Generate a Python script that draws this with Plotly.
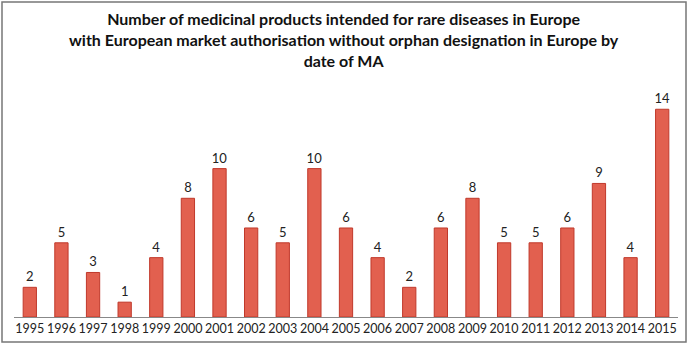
import plotly.graph_objects as go

years = ["1995", "1996", "1997", "1998", "1999", "2000", "2001", "2002", "2003", "2004", "2005",
         "2006", "2007", "2008", "2009", "2010", "2011", "2012", "2013", "2014", "2015"]
counts = [2, 5, 3, 1, 4, 8, 10, 6, 5, 10, 6, 4, 2, 6, 8, 5, 5, 6, 9, 4, 14]

title_text = ("Number of medicinal products intended for rare diseases in Europe<br>"
              "with European market authorisation without orphan designation in Europe by<br>"
              "date of MA")

W, H = 688, 348
ml, mr, mt, mb = 14, 10, 87, 31
pw, ph = W - ml - mr, H - mt - mb

fig = go.Figure(go.Bar(
    x=years, y=counts,
    marker=dict(color="#e2604f", line=dict(color="#c0392b", width=1)),
    width=0.42,
    text=[str(c) for c in counts], textposition="outside",
    textfont=dict(family="Lato", size=13, color="#222"),
    constraintext="none",
    cliponaxis=False,
))

def px_x(p):
    return (p - ml) / pw

def px_y(p):
    return (H - mb - p) / ph

fig.update_layout(
    width=W, height=H,
    margin=dict(l=ml, r=mr, t=mt, b=mb),
    paper_bgcolor="white", plot_bgcolor="white",
    showlegend=False,
    xaxis=dict(showline=True, linecolor="#888", linewidth=1, ticks="",
               tickangle=0, automargin=False,
               tickfont=dict(family="Lato", size=12.5, color="#222"),
               showgrid=False),
    yaxis=dict(visible=False, range=[0, 15.5], showgrid=False, automargin=False),
    shapes=[dict(type="rect", xref="paper", yref="paper",
                 x0=px_x(2), x1=px_x(686), y0=px_y(342), y1=px_y(2),
                 line=dict(color="#777", width=1.5))],
    annotations=[dict(text=title_text, xref="paper", yref="paper",
                      x=px_x(344), y=px_y(7), xanchor="center", yanchor="top",
                      showarrow=False, align="center",
                      font=dict(family="Lato", size=16, color="#111", weight="bold"))],
)

fig.write_html("out.html")
